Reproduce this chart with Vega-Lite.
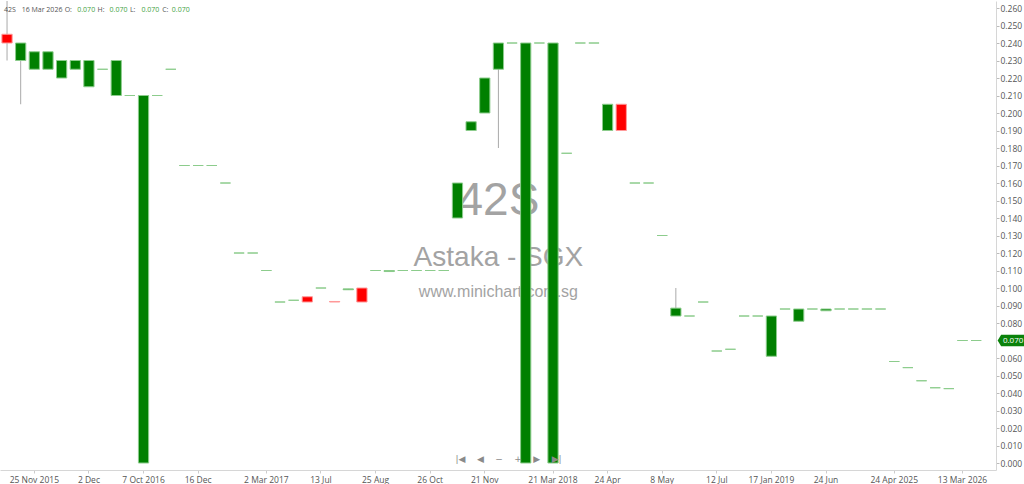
{
  "$schema": "https://vega.github.io/schema/vega-lite/v6.json",
  "width": 996,
  "height": 469,
  "padding": 0,
  "background": "white",
  "config": {"view": {"stroke": null}, "font": "Open Sans", "axis": {"labelOverlap": false}},
  "data": {"values": [
    {"i":0,"o":0.245,"h":0.264,"l":0.23,"c":0.24},
    {"i":1,"o":0.23,"h":0.24,"l":0.205,"c":0.24},
    {"i":2,"o":0.225,"h":0.235,"l":0.225,"c":0.235},
    {"i":3,"o":0.225,"h":0.235,"l":0.225,"c":0.235},
    {"i":4,"o":0.22,"h":0.23,"l":0.22,"c":0.23},
    {"i":5,"o":0.225,"h":0.23,"l":0.225,"c":0.23},
    {"i":6,"o":0.215,"h":0.23,"l":0.215,"c":0.23},
    {"i":7,"o":0.225,"h":0.225,"l":0.225,"c":0.225},
    {"i":8,"o":0.21,"h":0.23,"l":0.21,"c":0.23},
    {"i":9,"o":0.21,"h":0.21,"l":0.21,"c":0.21},
    {"i":10,"o":0.0,"h":0.21,"l":0.0,"c":0.21},
    {"i":11,"o":0.21,"h":0.21,"l":0.21,"c":0.21},
    {"i":12,"o":0.225,"h":0.225,"l":0.225,"c":0.225},
    {"i":13,"o":0.17,"h":0.17,"l":0.17,"c":0.17},
    {"i":14,"o":0.17,"h":0.17,"l":0.17,"c":0.17},
    {"i":15,"o":0.17,"h":0.17,"l":0.17,"c":0.17},
    {"i":16,"o":0.16,"h":0.16,"l":0.16,"c":0.16},
    {"i":17,"o":0.12,"h":0.12,"l":0.12,"c":0.12},
    {"i":18,"o":0.12,"h":0.12,"l":0.12,"c":0.12},
    {"i":19,"o":0.11,"h":0.11,"l":0.11,"c":0.11},
    {"i":20,"o":0.092,"h":0.092,"l":0.092,"c":0.092},
    {"i":21,"o":0.093,"h":0.093,"l":0.093,"c":0.093},
    {"i":22,"o":0.095,"h":0.095,"l":0.092,"c":0.092},
    {"i":23,"o":0.1,"h":0.1,"l":0.1,"c":0.1},
    {"i":24,"o":0.0923,"h":0.0923,"l":0.092,"c":0.092},
    {"i":25,"o":0.099,"h":0.0995,"l":0.099,"c":0.0995},
    {"i":26,"o":0.1,"h":0.1,"l":0.092,"c":0.092},
    {"i":27,"o":0.11,"h":0.11,"l":0.11,"c":0.11},
    {"i":28,"o":0.1094,"h":0.11,"l":0.1094,"c":0.11},
    {"i":29,"o":0.11,"h":0.11,"l":0.11,"c":0.11},
    {"i":30,"o":0.11,"h":0.11,"l":0.11,"c":0.11},
    {"i":31,"o":0.11,"h":0.11,"l":0.11,"c":0.11},
    {"i":32,"o":0.11,"h":0.11,"l":0.11,"c":0.11},
    {"i":33,"o":0.14,"h":0.16,"l":0.14,"c":0.16},
    {"i":34,"o":0.19,"h":0.195,"l":0.19,"c":0.195},
    {"i":35,"o":0.2,"h":0.22,"l":0.2,"c":0.22},
    {"i":36,"o":0.225,"h":0.24,"l":0.18,"c":0.24},
    {"i":37,"o":0.24,"h":0.24,"l":0.24,"c":0.24},
    {"i":38,"o":0.0,"h":0.24,"l":0.0,"c":0.24},
    {"i":39,"o":0.24,"h":0.24,"l":0.24,"c":0.24},
    {"i":40,"o":0.0,"h":0.24,"l":0.0,"c":0.24},
    {"i":41,"o":0.177,"h":0.177,"l":0.177,"c":0.177},
    {"i":42,"o":0.24,"h":0.24,"l":0.24,"c":0.24},
    {"i":43,"o":0.24,"h":0.24,"l":0.24,"c":0.24},
    {"i":44,"o":0.19,"h":0.205,"l":0.19,"c":0.205},
    {"i":45,"o":0.205,"h":0.205,"l":0.19,"c":0.19},
    {"i":46,"o":0.16,"h":0.16,"l":0.16,"c":0.16},
    {"i":47,"o":0.16,"h":0.16,"l":0.16,"c":0.16},
    {"i":48,"o":0.13,"h":0.13,"l":0.13,"c":0.13},
    {"i":49,"o":0.084,"h":0.1,"l":0.084,"c":0.0885},
    {"i":50,"o":0.084,"h":0.084,"l":0.084,"c":0.084},
    {"i":51,"o":0.092,"h":0.092,"l":0.092,"c":0.092},
    {"i":52,"o":0.064,"h":0.064,"l":0.064,"c":0.064},
    {"i":53,"o":0.065,"h":0.065,"l":0.065,"c":0.065},
    {"i":54,"o":0.084,"h":0.084,"l":0.084,"c":0.084},
    {"i":55,"o":0.084,"h":0.084,"l":0.084,"c":0.084},
    {"i":56,"o":0.061,"h":0.084,"l":0.061,"c":0.084},
    {"i":57,"o":0.088,"h":0.088,"l":0.088,"c":0.088},
    {"i":58,"o":0.081,"h":0.088,"l":0.081,"c":0.088},
    {"i":59,"o":0.088,"h":0.088,"l":0.088,"c":0.088},
    {"i":60,"o":0.087,"h":0.088,"l":0.087,"c":0.088},
    {"i":61,"o":0.088,"h":0.088,"l":0.088,"c":0.088},
    {"i":62,"o":0.088,"h":0.088,"l":0.088,"c":0.088},
    {"i":63,"o":0.088,"h":0.088,"l":0.088,"c":0.088},
    {"i":64,"o":0.088,"h":0.088,"l":0.088,"c":0.088},
    {"i":65,"o":0.058,"h":0.058,"l":0.058,"c":0.058},
    {"i":66,"o":0.0545,"h":0.0545,"l":0.0545,"c":0.0545},
    {"i":67,"o":0.047,"h":0.047,"l":0.047,"c":0.047},
    {"i":68,"o":0.043,"h":0.043,"l":0.043,"c":0.043},
    {"i":69,"o":0.0425,"h":0.0425,"l":0.0425,"c":0.0425},
    {"i":70,"o":0.07,"h":0.07,"l":0.07,"c":0.07},
    {"i":71,"o":0.07,"h":0.07,"l":0.07,"c":0.07}
  ]},
  "layer": [
    {
      "mark": {"type": "bar", "strokeWidth": 1, "opacity": 0},
      "encoding": {
        "x": {
          "field": "i", "type": "ordinal",
          "scale": {"paddingInner": 0.25, "paddingOuter": 0.61, "align": 0.115, "round": false},
          "axis": {
            "values": [2,6,10,14,19,23,27,31,35,40,44,48,52,56,60,65,70],
            "labelExpr": "{'2':'25 Nov 2015','6':'2 Dec','10':'7 Oct 2016','14':'16 Dec','19':'2 Mar 2017','23':'13 Jul','27':'25 Aug','31':'26 Oct','35':'21 Nov','40':'21 Mar 2018','44':'24 Apr','48':'8 May','52':'12 Jul','56':'17 Jan 2019','60':'24 Jun','65':'24 Apr 2025','70':'13 Mar 2026'}[datum.label]",
            "title": null, "labelAngle": 0, "grid": false, "labelOverlap": false,
            "domainColor": "#d6d6d6", "tickColor": "#cccccc", "tickSize": 3,
            "labelColor": "#555555", "labelFontSize": 8.5, "labelFont": "Open Sans", "labelPadding": 2
          }
        },
        "y": {
          "field": "c", "type": "quantitative", "title": null,
          "scale": {"domain": [-0.004, 0.264], "nice": false, "zero": false},
          "axis": {
            "orient": "right", "title": null, "grid": false, "labelOverlap": false, "labelBound": false,
            "tickCount": 40,
            "values": [0,0.01,0.02,0.03,0.04,0.05,0.06,0.08,0.09,0.1,0.11,0.12,0.13,0.14,0.15,0.16,0.17,0.18,0.19,0.2,0.21,0.22,0.23,0.24,0.25,0.26],
            "format": ".3f",
            "domainColor": "#d6d6d6", "tickColor": "#bbbbbb", "tickSize": 3,
            "labelColor": "#555555", "labelPadding": 1,
            "labelFontSize": 8.5, "labelFont": "Open Sans"
          }
        },
        "y2": {"field": "c"}
      }
    },
    {
      "data": {"values": [{"t": "42S"}]},
      "mark": {"type": "text", "font": "Liberation Sans", "fontSize": 46, "color": "#a3a3a3", "baseline": "middle", "align": "center"},
      "encoding": {
        "x": {"datum": 36, "type": "ordinal"},
        "y": {"datum": 0.1495, "type": "quantitative"},
        "text": {"field": "t"}
      }
    },
    {
      "data": {"values": [{"t": "Astaka - SGX"}]},
      "mark": {"type": "text", "font": "Liberation Sans", "fontSize": 28, "color": "#a3a3a3", "baseline": "middle", "align": "center"},
      "encoding": {
        "x": {"datum": 36, "type": "ordinal"},
        "y": {"datum": 0.1172, "type": "quantitative"},
        "text": {"field": "t"}
      }
    },
    {
      "data": {"values": [{"t": "www.minichart.com.sg"}]},
      "mark": {"type": "text", "font": "Liberation Sans", "fontSize": 16, "color": "#a3a3a3", "baseline": "middle", "align": "center"},
      "encoding": {
        "x": {"datum": 36, "type": "ordinal"},
        "y": {"datum": 0.0977, "type": "quantitative"},
        "text": {"field": "t"}
      }
    },
    {
      "mark": {"type": "rule", "color": "#aaaaaa", "strokeWidth": 1},
      "encoding": {
        "x": {"field": "i", "type": "ordinal"},
        "y": {"field": "l", "type": "quantitative"},
        "y2": {"field": "h"}
      }
    },
    {
      "mark": {"type": "bar", "strokeWidth": 1},
      "encoding": {
        "x": {"field": "i", "type": "ordinal"},
        "y": {"field": "o", "type": "quantitative"},
        "y2": {"field": "c"},
        "fill": {"condition": {"test": "datum.c < datum.o", "value": "#ff0000"}, "value": "#008000"},
        "stroke": {"condition": {"test": "datum.c < datum.o", "value": "#ff9a9a"}, "value": "#8ccc8c"}
      }
    },
    {
      "data": {"values": [{"t": "|◀\u00a0\u00a0\u00a0\u00a0◀\u00a0\u00a0\u00a0\u00a0−\u00a0\u00a0\u00a0\u00a0+\u00a0\u00a0\u00a0\u00a0▶\u00a0\u00a0\u00a0\u00a0▶|"}]},
      "mark": {"type": "text", "font": "DejaVu Sans", "fontSize": 9, "color": "#8a8a8a", "baseline": "middle", "align": "center", "dx": -3.5},
      "encoding": {
        "x": {"datum": 37, "type": "ordinal"},
        "y": {"datum": 0.0023, "type": "quantitative"},
        "text": {"field": "t"}
      }
    },
    {
      "data": {"values": [{"p": 0.07}]},
      "mark": {"type": "point", "filled": true, "opacity": 1, "color": "#0a820a", "size": 729, "xOffset": 35, "shape": "M-1,0L-0.74,-0.42L1,-0.42L1,0.42L-0.74,0.42Z"},
      "encoding": {
        "x": {"datum": 71, "type": "ordinal"},
        "y": {"field": "p", "type": "quantitative"}
      }
    },
    {
      "data": {"values": [{"p": 0.07, "t": "0.070"}]},
      "mark": {"type": "text", "fontSize": 8, "color": "#ffffff", "baseline": "middle", "align": "center", "xOffset": 37},
      "encoding": {
        "x": {"datum": 71, "type": "ordinal"},
        "y": {"field": "p", "type": "quantitative"},
        "text": {"field": "t"}
      }
    },
    {
      "data": {"values": [{"t": "42S"}]},
      "mark": {"type": "text", "fontSize": 7, "color": "#555555", "baseline": "middle", "align": "left", "dx": -3},
      "encoding": {"x": {"datum": 0, "type": "ordinal"}, "y": {"datum": 0.2589, "type": "quantitative"}, "text": {"field": "t"}}
    },
    {
      "data": {"values": [{"t": "16 Mar 2026"}]},
      "mark": {"type": "text", "fontSize": 7, "color": "#555555", "baseline": "middle", "align": "left", "dx": 1},
      "encoding": {"x": {"datum": 1, "type": "ordinal"}, "y": {"datum": 0.2589, "type": "quantitative"}, "text": {"field": "t"}}
    },
    {
      "data": {"values": [{"t": "O:"}]},
      "mark": {"type": "text", "fontSize": 7, "color": "#555555", "baseline": "middle", "align": "left", "dx": 3},
      "encoding": {"x": {"datum": 4, "type": "ordinal"}, "y": {"datum": 0.2589, "type": "quantitative"}, "text": {"field": "t"}}
    },
    {
      "data": {"values": [{"t": "0.070"}]},
      "mark": {"type": "text", "fontSize": 7, "color": "#3f9f3f", "baseline": "middle", "align": "left", "dx": 2},
      "encoding": {"x": {"datum": 5, "type": "ordinal"}, "y": {"datum": 0.2589, "type": "quantitative"}, "text": {"field": "t"}}
    },
    {
      "data": {"values": [{"t": "H:"}]},
      "mark": {"type": "text", "fontSize": 7, "color": "#555555", "baseline": "middle", "align": "left", "dx": -5},
      "encoding": {"x": {"datum": 7, "type": "ordinal"}, "y": {"datum": 0.2589, "type": "quantitative"}, "text": {"field": "t"}}
    },
    {
      "data": {"values": [{"t": "0.070"}]},
      "mark": {"type": "text", "fontSize": 7, "color": "#3f9f3f", "baseline": "middle", "align": "left", "dx": 7},
      "encoding": {"x": {"datum": 7, "type": "ordinal"}, "y": {"datum": 0.2589, "type": "quantitative"}, "text": {"field": "t"}}
    },
    {
      "data": {"values": [{"t": "L:"}]},
      "mark": {"type": "text", "fontSize": 7, "color": "#555555", "baseline": "middle", "align": "left", "dx": 0},
      "encoding": {"x": {"datum": 9, "type": "ordinal"}, "y": {"datum": 0.2589, "type": "quantitative"}, "text": {"field": "t"}}
    },
    {
      "data": {"values": [{"t": "0.070"}]},
      "mark": {"type": "text", "fontSize": 7, "color": "#3f9f3f", "baseline": "middle", "align": "left", "dx": -2},
      "encoding": {"x": {"datum": 10, "type": "ordinal"}, "y": {"datum": 0.2589, "type": "quantitative"}, "text": {"field": "t"}}
    },
    {
      "data": {"values": [{"t": "C:"}]},
      "mark": {"type": "text", "fontSize": 7, "color": "#555555", "baseline": "middle", "align": "left", "dx": 5},
      "encoding": {"x": {"datum": 11, "type": "ordinal"}, "y": {"datum": 0.2589, "type": "quantitative"}, "text": {"field": "t"}}
    },
    {
      "data": {"values": [{"t": "0.070"}]},
      "mark": {"type": "text", "fontSize": 7, "color": "#3f9f3f", "baseline": "middle", "align": "left", "dx": 1},
      "encoding": {"x": {"datum": 12, "type": "ordinal"}, "y": {"datum": 0.2589, "type": "quantitative"}, "text": {"field": "t"}}
    }
  ]
}
